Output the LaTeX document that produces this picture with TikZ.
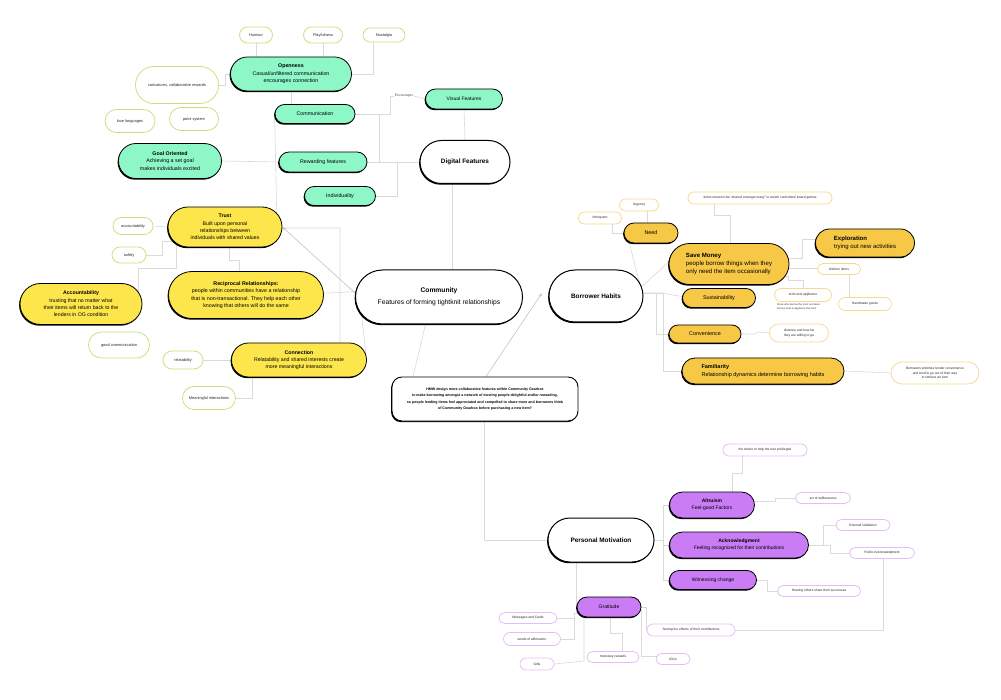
\documentclass[tikz,border=0pt]{standalone}
\usepackage{fontspec}
\setmainfont{Liberation Sans}
\usetikzlibrary{shapes.misc,shadows,arrows.meta}
\definecolor{mintc}{HTML}{8DF7C8}
\definecolor{yelc}{HTML}{FDE64B}
\definecolor{goldc}{HTML}{F7C846}
\definecolor{purpc}{HTML}{C97CF4}
\definecolor{leafgc}{HTML}{C8E07C}
\definecolor{leafoc}{HTML}{F8D890}
\definecolor{leafpc}{HTML}{E6BBF9}
\definecolor{wirec}{HTML}{DADADA}
\definecolor{arrc}{HTML}{C4C4C4}
\pgfdeclarelayer{back}\pgfdeclarelayer{bg}\pgfsetlayers{back,bg,main}
\newcommand{\fs}[2]{\fontsize{#1}{#2}\selectfont}
\tikzset{
  shad/.style={drop shadow={shadow xshift=-0.9pt, shadow yshift=-1.2pt, fill=black, opacity=1}},
  box/.style={rounded rectangle, draw=black, line width=0.8pt, align=center, inner sep=0.5pt, text=black, shad},
  bigbox/.style={box, fill=white, line width=1pt, font=\fs{6.4}{8}\bfseries},
  mint/.style={box, fill=mintc, font=\fs{5.3}{7.5}},
  yel/.style={box, fill=yelc, font=\fs{5.2}{7.3}},
  gold/.style={box, fill=goldc, font=\fs{5.4}{7.3}},
  purp/.style={box, fill=purpc, font=\fs{5.0}{7.2}},
  leaf/.style={rounded rectangle, line width=0.75pt, fill=white, align=center, inner sep=0.5pt, text=black!85},
  leafg/.style={leaf, draw=leafgc, font=\fs{3.9}{4.9}},
  leafo/.style={leaf, draw=leafoc, font=\fs{3.3}{4.3}},
  leafp/.style={leaf, draw=leafpc, font=\fs{3.3}{4.3}},
  wire/.style={draw=wirec, line width=0.6pt},
  arr/.style={draw=arrc, line width=0.6pt, -{Stealth[length=4pt,width=3pt]}},
  sz/.style 2 args={minimum width=#1pt, minimum height=#2pt},
}
\begin{document}
\begin{tikzpicture}[x=1pt,y=-1pt]
\begin{pgfonlayer}{back}
\fill[white] (0,0) rectangle (1001,700);
\end{pgfonlayer}
\useasboundingbox (0,0) rectangle (1001,700);

% ---------- Digital features cluster ----------
\node[bigbox, sz={91}{43}] (digital) at (465,162) {Digital Features};
\node[mint, sz={122}{34}] (open) at (291,74) {\textbf{Openness}\\Casual/unfiltered communication\\encourages connection};
\node[mint, sz={81}{19}] (comm) at (315,114) {Communication};
\node[mint, sz={78}{20}, font=\fs{5.0}{6}] (visual) at (464,99) {Visual Features};
\node[mint, sz={104}{35}] (goal) at (170,161) {\textbf{Goal Oriented}\\Achieving a set goal\\makes individuals excited};
\node[mint, sz={89}{20}] (reward) at (323,162) {Rewarding features};
\node[mint, sz={72}{19}] (indiv) at (340,196) {Individuality};
\node[font=\fs{3.4}{4}, text=black!70, inner sep=0.5pt] (enc) at (404,96) {Encourages};

\node[leafg, sz={34}{16}] (humour) at (256,35) {Humour};
\node[leafg, sz={40}{16}] (play) at (323,35) {Playfulness};
\node[leafg, sz={43}{14}] (nost) at (384,35) {Nostalgia};
\node[leafg, sz={84}{37}] (cari) at (177,85) {caricatures, collaborative rewards};
\node[leafg, sz={51}{23}] (love) at (130,121) {love languages};
\node[leafg, sz={50}{23}] (point) at (194,119) {point system};

% ---------- Community cluster ----------
\node[bigbox, sz={168}{54}, font=\fs{6.7}{8}] (commu) at (439,297) {\textbf{Community}\\[3.5pt]Features of forming tightknit relationships};
\node[yel, sz={115}{40}] (trust) at (225,227) {\textbf{Trust}\\Built upon personal\\relationships between\\individuals with shared values};
\node[yel, sz={156}{47}, font=\fs{5.3}{7.5}] (recip) at (246,295) {\textbf{Reciprocal Relationships:}\\people within communities have a relationship\\that is non-transactional. They help each other\\knowing that others will do the same};
\node[yel, sz={123}{41}] (acc) at (81,304) {\textbf{Accountability}\\trusting that no matter what\\their items will return back to the\\lenders in OG condition};
\node[yel, sz={136}{34}] (conn) at (299,360) {\textbf{Connection}\\Relatability and shared interests create\\more meaningful interactions};

\node[leafg, sz={41}{17}] (accl) at (133,226) {accountability};
\node[leafg, sz={35}{16}] (safety) at (129,255) {safety};
\node[leafg, sz={62}{26}] (goodc) at (119,345) {good communication};
\node[leafg, sz={41}{18}] (relat) at (183,360) {relatability};
\node[leafg, sz={54}{23}] (meaning) at (209,398) {Meaningful interactions};

\node[draw=black, line width=0.9pt, rounded corners=10pt, fill=white, minimum width=186pt, minimum height=44pt, align=center, inner sep=1pt, font=\fs{3.6}{6.5}\bfseries, shad] (hmw) at (485,399) {HMW design more collaborative features within Community Gearbox\\to make borrowing amongst a network of trusting people delightful and/or rewarding,\\so people lending items feel appreciated and compelled to share more and borrowers think\\of Community Gearbox before purchasing a new item?};

% ---------- Borrower habits cluster ----------
\node[bigbox, sz={95}{52}] (borrow) at (596,296) {Borrower Habits};
\node[gold, sz={55}{20}] (need) at (651,233) {Need};
\node[gold, sz={121}{41}, align=left, font=\fs{6.1}{7.6}] (save) at (729,264) {\textbf{Save Money}\\people borrow things when they\\only need the item occasionally};
\node[gold, sz={100}{28}, align=left, font=\fs{6.0}{7.6}] (expl) at (865,243) {\textbf{Exploration}\\trying out new activities};
\node[gold, sz={74}{19}] (sust) at (719,298) {Sustainability};
\node[gold, sz={73}{18}] (conv) at (705,334) {Convenience};
\node[gold, sz={163}{26}, align=left, font=\fs{5.5}{7.3}] (fam) at (763,371) {\textbf{Familiarity}\\Relationship dynamics determine borrowing habits};

\node[leafo, sz={145}{12}] (items) at (760,198) {Items meant to be ``shared amongst many'' ie switch controllers/ board games};
\node[leafo, sz={40}{12}] (urg) at (639,205) {Urgency};
\node[leafo, sz={44}{12}] (infreq) at (600,218) {Infrequent};
\node[leafo, sz={44}{11}] (kitchen) at (839,269) {Kitchen items};
\node[leafo, sz={58}{13}] (tools) at (803,295) {tools and appliance};
\node[font=\fs{2.6}{3.7}, align=left, anchor=north west, inner sep=0pt, text=black!80] (toolsnote) at (777,303.5) {those who borrow the most and least\\borrow tools \& appliance the most};
\node[leafo, sz={54}{13}] (hand) at (865,304) {Handmade goods};
\node[leafo, sz={60}{18}] (dist) at (799,333) {distance and how far\\they are willing to go};
\node[leafo, sz={89}{22}] (borrowers) at (935,373) {Borrowers prioritize lender convenience\\and tend to go out of their way\\to retrieve an item};

% ---------- Personal motivation cluster ----------
\node[bigbox, sz={107}{44}] (pm) at (601,540) {Personal Motivation};
\node[purp, sz={86}{26}] (alt) at (712,505) {\textbf{Altruism}\\Feel-good Factors};
\node[purp, sz={140}{26}] (ack) at (739,545) {\textbf{Acknowledgment}\\Feeling recognized for their contributions};
\node[purp, sz={88}{19}] (wit) at (713,580) {Witnessing change};
\node[purp, sz={65}{20}] (grat) at (609,607) {Gratitude};

\node[leafp, sz={85}{12}] (desire) at (765,450) {the desire to help the less privileged};
\node[leafp, sz={56}{11}] (selfl) at (823,498) {act of selflessness};
\node[leafp, sz={55}{11}] (ext) at (863,525) {External Validation};
\node[leafp, sz={66}{11}] (pub) at (882,553) {Public Acknowledgment};
\node[leafp, sz={84}{11}] (hear) at (819,591) {Hearing others share their successes};
\node[leafp, sz={89}{12}] (seeing) at (691,630) {Seeing the effects of their contributions};
\node[leafp, sz={59}{11}] (msg) at (528,618) {Messages and Cards};
\node[leafp, sz={58}{13}] (words) at (532,639) {words of affirmation};
\node[leafp, sz={35}{12}] (gifts) at (537,664) {Gifts};
\node[leafp, sz={53}{11}] (money) at (613,657) {monetary rewards};
\node[leafp, sz={35}{11}] (ious) at (673,659) {IOUs};

% ---------- connectors ----------
\begin{pgfonlayer}{bg}
% openness
\draw[wire] (humour.south) -- (humour.south |- open.north);
\draw[wire] (play.south) -- (play.south |- open.north);
\draw[wire] ([xshift=-11pt]nost.south) |- (open.east);
\draw[wire] (cari.east) -- ++(6,0) |- (open.west);
\draw[wire] (open.south) -- (open.south |- comm.north);
% communication / digital
\draw[wire] (comm.east) -- (390,114) |- (enc.west);
\draw[wire] (enc.east) -- (visual.west);
\draw[wire] (comm.east) -- (379,114) |- (digital.west);
\draw[wire] (reward.east) -- (digital.west);
\draw[wire] (indiv.east) -| (397,162);
\draw[wire] (visual.south) -- (digital.north);
\draw[wire] (452,170) -- (452,285);
\draw[wire] (reward.west) -- (goal.east);
% communication to connection (behind trust)
\draw[wire] (comm.west) -- (277,228) -- (340,228) -- (340,355);
% trust cluster
\draw[wire] (accl.east) -- (trust.west);
\draw[wire] (safety.east) -- (162,255) -- (162,241) -- (185,241);
\draw[wire] (138,296) -- (138,268) -- (176,268) -- (176,238);
\draw[wire] (229,240) -- (229,260) -- (239,260) -- (239,285);
\draw[wire] (310,294) -- (366,291);
\draw[arr] ([yshift=4pt]commu.west) -- (trust.east);
\draw[wire] (361,309) -- (366,355);
\draw[wire] (conn.west) -- (relat.east);
\draw[wire] (252,370) |- (meaning.east);
% community / question
\draw[wire] (427,318) -- (411,385);
\draw[arr] (485,378) -- (542,293);
\draw[wire] (484,415) |- (pm.west);
% borrower habits
\draw[wire] (628,238) -- (640,285);
\draw[wire] (636,292) -- (674,257);
\draw[wire] (636,293) -- (662,293) -- (690,298);
\draw[wire] (636,293) -- (656,293) -- (656,334) -- (680,334);
\draw[wire] (636,293) -- (663,293) -- (663,371) -- (690,371);
\draw[wire] (612,222) |- (need.west);
\draw[wire] (647,210) -- (647,228);
\draw[wire] (730,250) -- (730,215) -- (714,215) -- (714,200);
\draw[wire] (785,258) -- (802,258) -- (802,239) -- (830,239);
\draw[wire] (785,268) -- (825,268);
\draw[wire] (849,272) -- (849,300);
\draw[wire] (782,276) -- (788,276) -- (788,280) -- (803,280) -- (803,292);
\draw[wire] (conv.east) -- (755,334) -- (758,332) -- (dist.west);
\draw[wire] (fam.east) -- (borrowers.west);
% personal motivation
\draw[wire] (645,540) -- (663,540);
\draw[wire] (680,505) -- (663,505) -- (663,580) -- (680,580);
\draw[wire] (663,545) -- (680,545);
\draw[wire] (732,495) -- (732,473) -- (742,473) -- (742,452);
\draw[wire] (750,501) -- (775,501) -- (775,498) -- (800,498);
\draw[wire] (800,545) -- (823,545) -- (823,525) -- (840,525);
\draw[wire] (823,545) -- (830,545) -- (830,553) -- (855,553);
\draw[wire] (883,556) -- (883,630) -- (730,630);
\draw[wire] (750,580) -- (767,580) -- (767,591) -- (785,591);
\draw[wire] (576,555) |- (grat.west);
\draw[wire] (635,607) -- (646,607) -- (646,630) -- (660,630);
\draw[wire] (592,613) -- (574,613) -- (574,639) -- (words.east);
\draw[wire] (574,618) -- (msg.east);
\draw[wire] (584,612) -- (584,661) -- (gifts.east);
\draw[wire] (610,612) -- (610,633) -- (622,633) -- (622,653);
\draw[wire] (641,610) -- (641,656) -- (660,656);
\end{pgfonlayer}
\end{tikzpicture}
\end{document}
